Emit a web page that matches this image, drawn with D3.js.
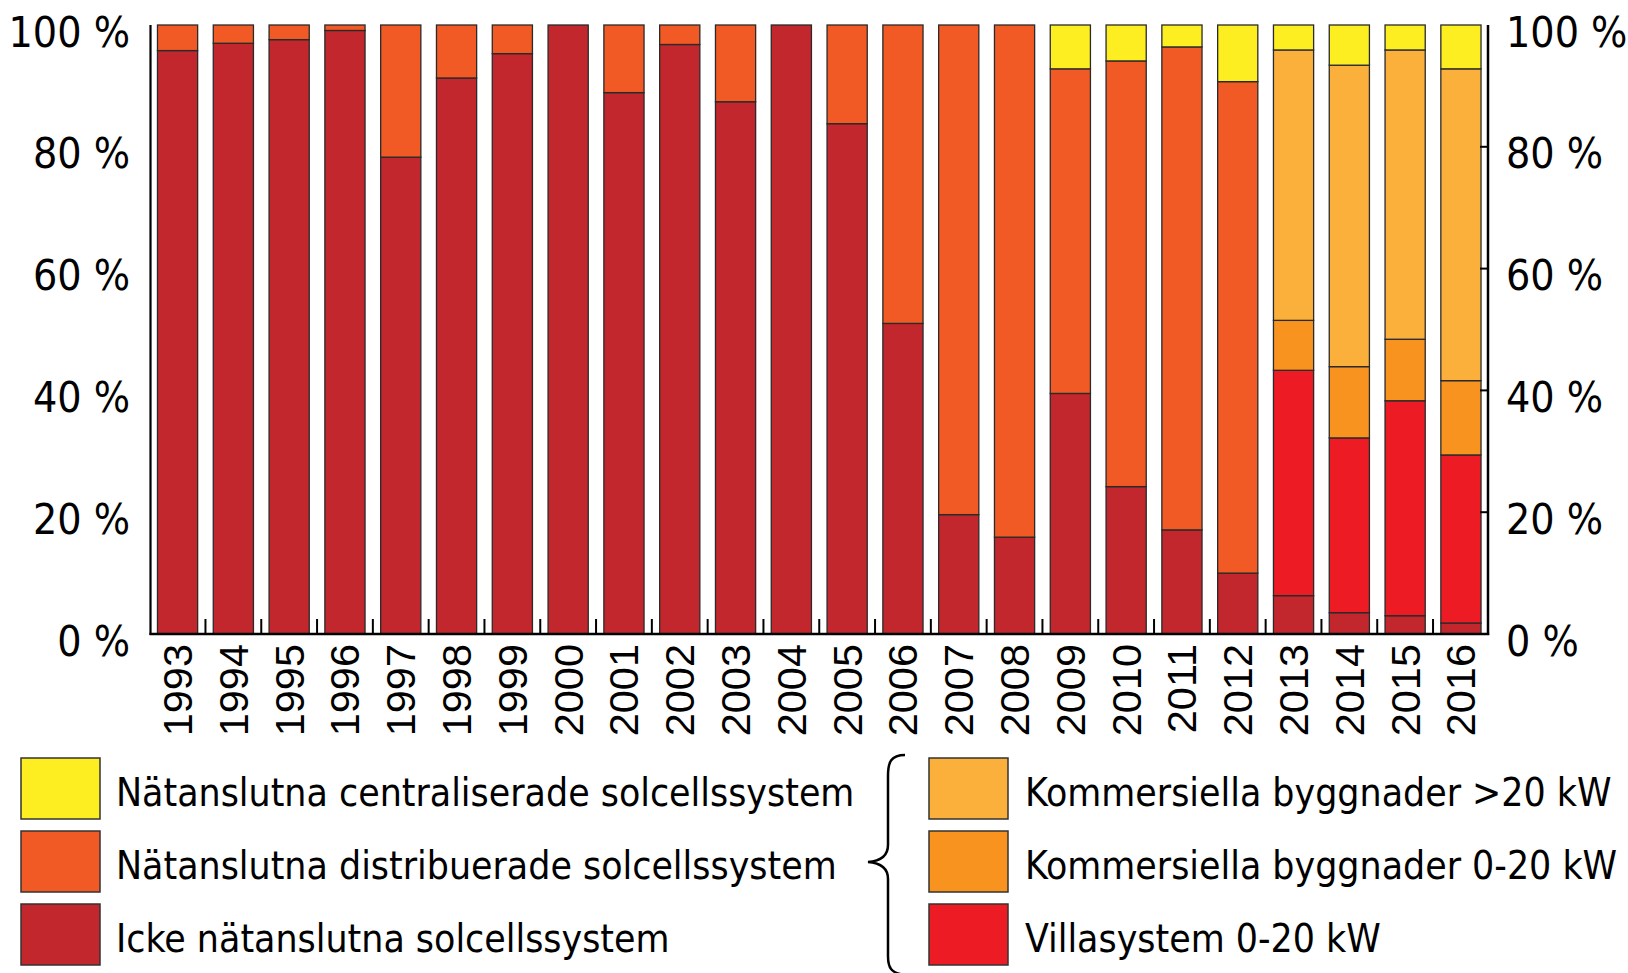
<!DOCTYPE html>
<html>
<head>
<meta charset="utf-8">
<script src="https://cdn.jsdelivr.net/npm/d3@7"></script>
<style>
body{margin:0;background:#fff;}
svg{display:block;}
.cond{font-family:"DejaVu Sans Condensed","Liberation Sans Narrow","DejaVu Sans",sans-serif;font-stretch:condensed;}
</style>
</head>
<body>
<div id="chart"></div>
<script>
// data (percent of installed power per year)
const years = ["1993","1994","1995","1996","1997","1998","1999","2000","2001","2002","2003","2004","2005","2006","2007","2008","2009","2010","2011","2012","2013","2014","2015","2016"];
const icke     = [95.8,97.0,97.6,99.1,78.3,91.3,95.3,100,88.9,96.8,87.4,100,83.8,51.0,19.6,15.9,39.5,24.2,17.1,10.0,6.3,3.5,3.0,1.8];
const villa    = [0,0,0,0,0,0,0,0,0,0,0,0,0,0,0,0,0,0,0,0,37.0,28.7,35.3,27.6];
const komm0_20 = [0,0,0,0,0,0,0,0,0,0,0,0,0,0,0,0,0,0,0,0,8.2,11.7,10.1,12.2];
const komm20   = [0,0,0,0,0,0,0,0,0,0,0,0,0,0,0,0,0,0,0,0,44.4,49.5,47.5,51.2];
const distrib  = [4.2,3.0,2.4,0.9,21.7,8.7,4.7,0,11.1,3.2,12.6,0,16.2,49.0,80.4,84.1,53.3,69.9,79.3,80.7,0,0,0,0];
const central  = [0,0,0,0,0,0,0,0,0,0,0,0,0,0,0,0,7.2,5.9,3.6,9.3,4.1,6.6,4.1,7.2];
const yTicks = [0,20,40,60,80,100];

const keys = ["icke","villa","komm0_20","komm20","distrib","central"];
const colors = {icke:"#c1272d",villa:"#ed1c24",komm0_20:"#f7931e",komm20:"#fbb03b",distrib:"#f15a24",central:"#fcee21"};
const labels = {
  central:"Nätanslutna centraliserade solcellssystem",
  distrib:"Nätanslutna distribuerade solcellssystem",
  icke:"Icke nätanslutna solcellssystem",
  komm20:"Kommersiella byggnader >20 kW",
  komm0_20:"Kommersiella byggnader 0-20 kW",
  villa:"Villasystem 0-20 kW"
};

const rows = years.map((y,i) => ({year:y, icke:icke[i], villa:villa[i], komm0_20:komm0_20[i], komm20:komm20[i], distrib:distrib[i], central:central[i]}));

const width = 1628, height = 973;
const pLeft = 150.5, pRight = 1488, pTop = 25, pBottom = 634;

const svg = d3.select("#chart").append("svg").attr("width",width).attr("height",height);

let x = d3.scaleBand().domain(years).range([pLeft,pRight]).paddingInner(0.28).paddingOuter(0.125);
let y = d3.scaleLinear().domain([0,100]).range([pBottom,pTop]);

let series = d3.stack().keys(keys)(rows);

// bars
svg.append("g").selectAll("g").data(series).enter().append("g")
  .attr("fill", d => colors[d.key])
  .selectAll("rect").data(d => d.filter(s => s[1]-s[0] > 0)).enter().append("rect")
  .attr("x", d => x(d.data.year))
  .attr("width", x.bandwidth())
  .attr("y", d => y(d[1]))
  .attr("height", d => y(d[0]) - y(d[1]))
  .attr("stroke","#2a2a2a").attr("stroke-width",1.3);

// ticks between bars on the bottom axis
let between = years.slice(1).map(yr => x(yr) - x.step()*x.paddingInner()/2);
svg.append("g").selectAll("line").data(between).enter().append("line")
  .attr("x1",d=>d).attr("x2",d=>d).attr("y1",pBottom).attr("y2",pBottom-15)
  .attr("stroke","#000").attr("stroke-width",2);

// right axis ticks pointing inward
svg.append("g").selectAll("line").data(yTicks.filter(t => t>0 && t<100)).enter().append("line")
  .attr("x1",pRight).attr("x2",pRight-8).attr("y1",d=>y(d)).attr("y2",d=>y(d))
  .attr("stroke","#000").attr("stroke-width",2);

// axis lines
svg.append("line").attr("x1",pLeft).attr("x2",pLeft).attr("y1",pTop).attr("y2",pBottom+1).attr("stroke","#000").attr("stroke-width",2.2);
svg.append("line").attr("x1",pRight).attr("x2",pRight).attr("y1",pTop).attr("y2",pBottom+1).attr("stroke","#000").attr("stroke-width",2.5);
svg.append("line").attr("x1",pLeft-1).attr("x2",pRight+1.2).attr("y1",pBottom).attr("y2",pBottom).attr("stroke","#000").attr("stroke-width",2.5);

// y labels both sides
let fmt = d => d + " %";
svg.append("g").attr("class","cond").selectAll("text").data(yTicks).enter().append("text")
  .attr("x",130).attr("y",d=>y(d)+7).attr("text-anchor","end").attr("dominant-baseline","central")
  .attr("font-size",42.5).text(fmt);
svg.append("g").attr("class","cond").selectAll("text").data(yTicks).enter().append("text")
  .attr("x",1506).attr("y",d=>y(d)+7).attr("text-anchor","start").attr("dominant-baseline","central")
  .attr("font-size",42.5).text(fmt);

// year labels rotated
svg.append("g").selectAll("text").data(years).enter().append("text")
  .attr("transform", d => "translate(" + (x(d)+x.bandwidth()/2) + ",644) rotate(-90)")
  .attr("text-anchor","end").attr("dominant-baseline","central")
  .style("font-family","'Liberation Sans',Arial,sans-serif").attr("font-size",41.5)
  .text(d=>d);

// legend
const legLeft = ["central","distrib","icke"], legRight = ["komm20","komm0_20","villa"];
const rowTop = [758,831,904];
function legend(list, sx, tx){
  let g = svg.append("g");
  list.forEach((k,i) => {
    g.append("rect").attr("x",sx).attr("y",rowTop[i]).attr("width",79).attr("height",61)
      .attr("fill",colors[k]).attr("stroke","#333").attr("stroke-width",1.5);
    g.append("text").attr("class","cond").attr("x",tx).attr("y",rowTop[i]+34)
      .attr("dominant-baseline","central").attr("font-size",38.8).text(labels[k]);
  });
}
legend(legLeft, 21, 116);
legend(legRight, 929, 1025);

// brace
svg.append("path")
  .attr("d","M905,755 C891,755 888,762 888,776 L888,845 C888,856 881,861 868,862 C881,863 888,868 888,879 L888,956 C888,968 891,973 905,975")
  .attr("fill","none").attr("stroke","#000").attr("stroke-width",2.5);
</script>
</body>
</html>
